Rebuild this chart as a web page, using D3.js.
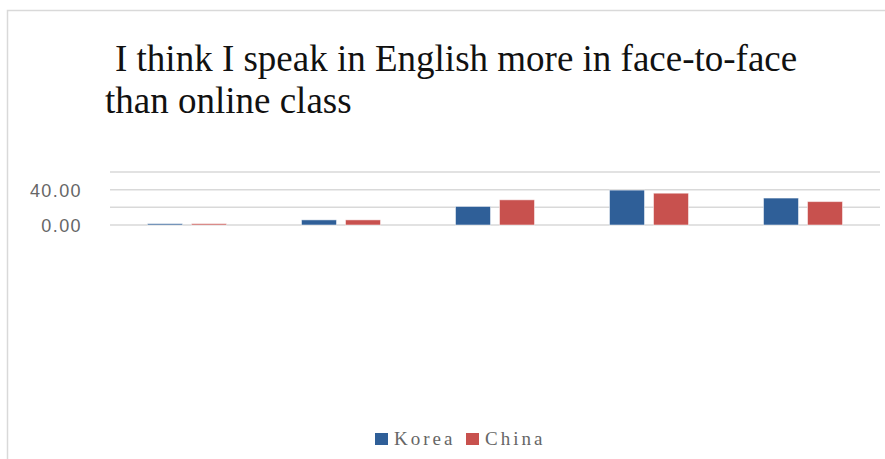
<!DOCTYPE html>
<html>
<head>
<meta charset="utf-8">
<script src="https://cdn.jsdelivr.net/npm/d3@7"></script>
<style>
  html, body { margin: 0; padding: 0; background: #fff; }
  svg { display: block; }
</style>
</head>
<body>
<svg id="chart" width="885" height="459"></svg>
<script>
// Survey responses (percent) per answer option
const categories = ["1", "2", "3", "4", "5"];
const seriesNames = ["Korea", "China"];
const koreaValues = [1.5, 5.8, 21.0, 39.5, 30.5];
const chinaValues = [1.5, 5.8, 28.5, 36.0, 26.5];
const gridTicks = [0, 20, 40, 60];
const labelTicks = [0, 40];
const titleLines = ["I think I speak in English more in face-to-face", "than online class"];
const colors = { Korea: "#2F5F98", China: "#C8514E" };

const svg = d3.select("#chart");

// chart frame (top and left edges visible)
svg.append("rect")
  .attr("x", 7.5).attr("y", 10.5)
  .attr("width", 900).attr("height", 470)
  .attr("fill", "#fff")
  .attr("stroke", "#d9d9d9").attr("stroke-width", 1.5);

// title
const title = svg.append("text")
  .attr("font-family", "'Liberation Serif', 'Times New Roman', serif")
  .attr("font-size", 37)
  .attr("fill", "#111");
title.append("tspan").attr("x", 115).attr("y", 71).text(titleLines[0]);
title.append("tspan").attr("x", 105).attr("y", 113).text(titleLines[1]);

// scales
const x0 = d3.scaleBand().domain(categories).range([110, 880]).padding(0);
const groupWidth = x0.bandwidth() * 0.513;
const x1 = d3.scaleBand().domain(seriesNames).range([0, groupWidth]).paddingInner(0.205);
const y = d3.scaleLinear().domain([0, 60]).range([225, 172]);

// gridlines
svg.append("g")
  .selectAll("line")
  .data(gridTicks)
  .join("line")
  .attr("x1", 110).attr("x2", 880)
  .attr("y1", d => y(d)).attr("y2", d => y(d))
  .attr("stroke", "#d9d9d9").attr("stroke-width", 1.5);

// y axis labels
const yAxis = d3.axisLeft(y)
  .tickValues(labelTicks)
  .tickFormat(d3.format(".2f"))
  .tickSize(0)
  .tickPadding(0);
const yg = svg.append("g").attr("transform", "translate(82,0)").call(yAxis);
yg.select(".domain").remove();
yg.selectAll("text")
  .attr("font-family", "'Liberation Sans', Arial, sans-serif")
  .attr("font-size", 18)
  .attr("letter-spacing", "1.4px")
  .attr("fill", "#666")
  .attr("dy", "0.36em");

// bars
const rows = categories.map((c, i) => ({ cat: c, Korea: koreaValues[i], China: chinaValues[i] }));
const groups = svg.append("g")
  .selectAll("g")
  .data(rows)
  .join("g")
  .attr("transform", d => `translate(${x0(d.cat) + (x0.bandwidth() - groupWidth) / 2},0)`);
groups.selectAll("rect")
  .data(d => seriesNames.map(s => ({ s, v: d[s] })))
  .join("rect")
  .attr("x", d => x1(d.s))
  .attr("width", x1.bandwidth())
  .attr("y", d => y(d.v))
  .attr("height", d => y(0) - y(d.v))
  .attr("fill", d => colors[d.s])
  .attr("stroke", "#ffffff").attr("stroke-opacity", 0.5).attr("stroke-width", 1);

// legend
const legend = svg.append("g").attr("transform", "translate(375,433)");
const legendX = [0, 91];
seriesNames.forEach((s, i) => {
  const g = legend.append("g").attr("transform", `translate(${legendX[i]},0)`);
  g.append("rect").attr("width", 13).attr("height", 12).attr("fill", colors[s]);
  g.append("text")
    .attr("x", 19).attr("y", 12)
    .attr("font-family", "'Liberation Serif', 'Times New Roman', serif")
    .attr("font-size", 19)
    .attr("letter-spacing", "3px")
    .attr("fill", "#666")
    .text(s);
});
</script>
</body>
</html>
